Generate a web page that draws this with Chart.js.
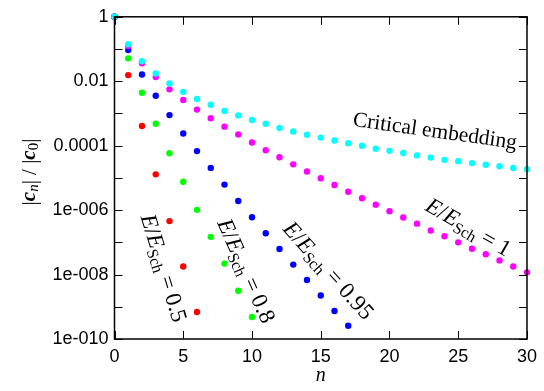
<!DOCTYPE html>
<html>
<head>
<meta charset="utf-8">
<script src="https://cdn.jsdelivr.net/npm/chart.js@4.4.1/dist/chart.umd.min.js"></script>
<style>
  html, body { margin: 0; padding: 0; background: #fff; }
  #wrap { width: 544px; height: 391px; position: relative; }
</style>
</head>
<body>
<div id="wrap"><canvas id="grafico"></canvas></div>
<script>
// |c_n|/|c_0|
const critico = [1, 0.141, 0.0417, 0.0174, 8.5e-3, 4.68e-3, 2.82e-3, 1.86e-3, 1.20e-3, 8.7e-4, 6.3e-4,
  4.79e-4, 3.55e-4, 2.75e-4, 2.19e-4, 1.78e-4, 1.45e-4, 1.20e-4, 1.00e-4, 8.1e-5, 6.9e-5,
  5.9e-5, 5.0e-5, 4.27e-5, 3.63e-5, 3.31e-5, 2.88e-5, 2.57e-5, 2.29e-5, 2.04e-5, 1.86e-5];
const e100 = [1, 0.123, 0.0363, 0.0135, 5.6e-3, 2.63e-3, 1.32e-3, 7.1e-4, 3.89e-4, 2.24e-4, 1.26e-4,
  7.2e-5, 4.37e-5, 2.63e-5, 1.58e-5, 9.8e-6, 6.0e-6, 3.7e-6, 2.34e-6, 1.48e-6, 9.3e-7,
  5.9e-7, 3.8e-7, 2.34e-7, 1.55e-7, 1.0e-7, 6.3e-8, 4.27e-8, 2.75e-8, 1.78e-8, 1.17e-8];
const e095 = [1, 0.093, 0.0162, 3.55e-3, 8.9e-4, 2.40e-4, 6.8e-5, 2.04e-5, 6.2e-6, 1.91e-6, 6.0e-7,
  1.91e-7, 6.2e-8, 2.04e-8, 6.8e-9, 2.24e-9, 7.4e-10, 2.57e-10];
const e080 = [1, 0.0513, 4.37e-3, 4.79e-4, 5.8e-5, 7.6e-6, 1.02e-6, 1.48e-7, 2.19e-8, 3.16e-9, 4.8e-10];
const e050 = [1, 0.0155, 4.07e-4, 1.29e-5, 4.57e-7, 1.78e-8, 6.9e-10];

const xTicks = [0, 5, 10, 15, 20, 25, 30];
const yTicks = [1, 1e-1, 1e-2, 1e-3, 1e-4, 1e-5, 1e-6, 1e-7, 1e-8, 1e-9, 1e-10];
const yTickLabels = { 0: '1', '-2': '0.01', '-4': '0.0001', '-6': '1e-006', '-8': '1e-008', '-10': '1e-010' };

// etiquetas de las curvas (posición en coordenadas de datos)
const etiquetas = [
  { tipo: 'texto', texto: 'Critical embedding', n: 23.3, y: 2.7e-4, ang: 8 },
  { tipo: 'E', valor: '1', n: 25.7, y: 2.75e-7, ang: 30 },
  { tipo: 'E', valor: '0.95', n: 15.5, y: 1.26e-8, ang: 48 },
  { tipo: 'E', valor: '0.8', n: 9.5, y: 1.26e-8, ang: 66 },
  { tipo: 'E', valor: '0.5', n: 3.5, y: 1.55e-8, ang: 73 }
];

function serie(valores) {
  return valores.map((v, i) => ({ x: i, y: v }));
}

function ds(valores, color) {
  return {
    data: serie(valores),
    backgroundColor: color,
    borderColor: color,
    borderWidth: 0,
    pointRadius: 3.2,
    pointHoverRadius: 3.2,
    clip: false
  };
}

const SERIF = '"Liberation Serif", "DejaVu Serif", serif';
const SANS = '"Liberation Sans", Arial, sans-serif';

const marcoPlugin = {
  id: 'marco',
  afterDraw(chart) {
    const { ctx, chartArea: a, scales } = chart;
    ctx.save();
    ctx.strokeStyle = '#000';
    ctx.lineWidth = 1.5;
    ctx.strokeRect(a.left, a.top, a.right - a.left, a.bottom - a.top);
    ctx.lineWidth = 1;
    const L = 8;
    ctx.beginPath();
    xTicks.forEach(t => {
      const px = Math.round(scales.x.getPixelForValue(t)) + 0.5;
      ctx.moveTo(px, a.bottom); ctx.lineTo(px, a.bottom - L);
      ctx.moveTo(px, a.top); ctx.lineTo(px, a.top + L);
    });
    yTicks.forEach(t => {
      const py = Math.round(scales.y.getPixelForValue(t)) + 0.5;
      ctx.moveTo(a.left, py); ctx.lineTo(a.left + L, py);
      ctx.moveTo(a.right, py); ctx.lineTo(a.right - L, py);
    });
    ctx.stroke();

    // titulo eje x
    ctx.fillStyle = '#000';
    ctx.font = 'italic 20px ' + SERIF;
    ctx.textAlign = 'center';
    ctx.textBaseline = 'alphabetic';
    ctx.fillText('n', (a.left + a.right) / 2, 381);

    // titulo eje y: |c_n| / |c_0|
    ctx.save();
    ctx.translate(29, 172);
    ctx.rotate(-Math.PI / 2);
    const partes = [
      ['|', '21px ' + SERIF, 0],
      ['c', 'bold italic 21px ' + SERIF, 0],
      ['n', 'italic 15px ' + SERIF, 4],
      ['| / |', '21px ' + SERIF, 0],
      ['c', 'bold italic 21px ' + SERIF, 0],
      ['0', '15px ' + SERIF, 4],
      ['|', '21px ' + SERIF, 0]
    ];
    let total = 0;
    partes.forEach(p => { ctx.font = p[1]; total += ctx.measureText(p[0]).width; });
    let x = -total / 2;
    ctx.textAlign = 'left';
    ctx.textBaseline = 'middle';
    partes.forEach(p => {
      ctx.font = p[1];
      ctx.fillText(p[0], x, p[2] + 1);
      x += ctx.measureText(p[0]).width;
    });
    ctx.restore();

    // etiquetas de curvas
    etiquetas.forEach(e => {
      const px = scales.x.getPixelForValue(e.n);
      const py = scales.y.getPixelForValue(e.y);
      ctx.save();
      ctx.translate(px, py);
      ctx.rotate(e.ang * Math.PI / 180);
      ctx.textBaseline = 'middle';
      ctx.textAlign = 'left';
      let trozos;
      if (e.tipo === 'texto') {
        trozos = [[e.texto, '21.5px ' + SERIF, 0]];
      } else {
        trozos = [
          ['E', 'italic 23px ' + SERIF, 0],
          ['/', '23px ' + SERIF, 0],
          ['E', 'italic 23px ' + SERIF, 0],
          ['Sch', '16px ' + SERIF, 6],
          [' = ', '23px ' + SERIF, 0],
          [e.valor, '23px ' + SERIF, 0]
        ];
      }
      let w = 0;
      trozos.forEach(t => { ctx.font = t[1]; w += ctx.measureText(t[0]).width; });
      let xx = -w / 2;
      trozos.forEach(t => {
        ctx.font = t[1];
        ctx.fillText(t[0], xx, t[2]);
        xx += ctx.measureText(t[0]).width;
      });
      ctx.restore();
    });
    ctx.restore();
  }
};

new Chart(document.getElementById('grafico').getContext('2d'), {
  type: 'scatter',
  data: {
    datasets: [
      ds(critico, '#00ffff'),
      ds(e100, '#ff00ff'),
      ds(e095, '#0000ff'),
      ds(e080, '#00ff00'),
      ds(e050, '#ff0000')
    ]
  },
  options: {
    responsive: true,
    maintainAspectRatio: false,
    animation: false,
    layout: { padding: { top: 11, right: 12.5, left: 0, bottom: 0 } },
    plugins: { legend: { display: false }, tooltip: { enabled: false } },
    scales: {
      x: {
        type: 'linear',
        min: 0,
        max: 30,
        afterBuildTicks: s => { s.ticks = xTicks.map(v => ({ value: v })); },
        afterFit: s => { s.height = 52; },
        ticks: {
          color: '#000',
          padding: 7,
          maxRotation: 0,
          autoSkip: false,
          font: { family: SANS, size: 18 }
        },
        grid: { display: false, drawTicks: false },
        border: { display: false }
      },
      y: {
        type: 'logarithmic',
        min: 1e-10,
        max: 1,
        afterBuildTicks: s => { s.ticks = yTicks.map(v => ({ value: v })); },
        afterFit: s => { s.width = 114.5; },
        ticks: {
          color: '#000',
          padding: 6,
          autoSkip: false,
          font: { family: SANS, size: 18 },
          callback: v => {
            const ex = Math.round(Math.log10(v));
            return yTickLabels[ex] !== undefined ? yTickLabels[ex] : '';
          }
        },
        grid: { display: false, drawTicks: false },
        border: { display: false }
      }
    }
  },
  plugins: [marcoPlugin]
});
</script>
</body>
</html>
